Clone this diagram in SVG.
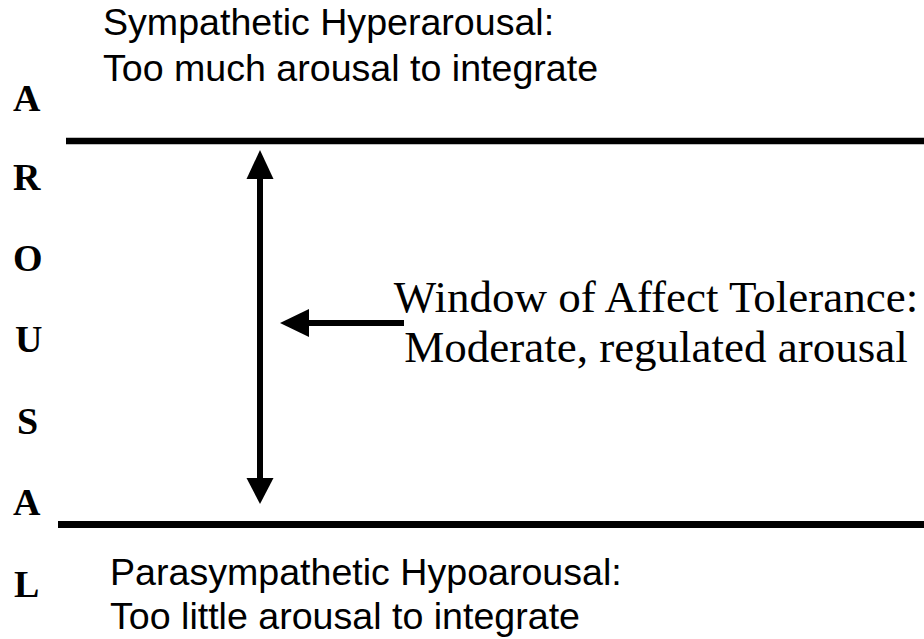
<svg xmlns="http://www.w3.org/2000/svg" width="924" height="639" viewBox="0 0 924 639">
  <style>
    .sans { font-family: "Liberation Sans", Arial, sans-serif; font-size: 37.6px; fill: #000; }
    .serif { font-family: "Liberation Serif", "Times New Roman", serif; font-size: 45px; fill: #000; }
    .axis { font-family: "Liberation Serif", "Times New Roman", serif; font-size: 38px; font-weight: bold; fill: #000; }
    .bar { stroke: #000; fill: none; }
    .shaft { stroke: #000; stroke-width: 6; fill: none; }
    .head { fill: #000; stroke: none; }
  </style>
  <rect x="0" y="0" width="924" height="639" fill="#fff"/>

  <g id="axis-label">
    <text class="axis" x="13" y="111">A</text>
    <text class="axis" x="13" y="190">R</text>
    <text class="axis" x="13" y="271">O</text>
    <text class="axis" x="15" y="352">U</text>
    <text class="axis" x="17" y="434">S</text>
    <text class="axis" x="13" y="515">A</text>
    <text class="axis" x="14" y="597">L</text>
  </g>

  <g id="hyperarousal">
    <text class="sans" x="103" y="35">Sympathetic Hyperarousal:</text>
    <text class="sans" x="103" y="81">Too much arousal to integrate</text>
  </g>

  <g id="window">
    <text class="serif" x="656" y="312" text-anchor="middle">Window of Affect Tolerance:</text>
    <text class="serif" x="656" y="362" text-anchor="middle">Moderate, regulated arousal</text>
  </g>

  <g id="hypoarousal">
    <text class="sans" x="110" y="585">Parasympathetic Hypoarousal:</text>
    <text class="sans" x="110" y="629">Too little arousal to integrate</text>
  </g>

  <g id="boundaries">
    <line class="bar" x1="66" y1="141" x2="924" y2="141" stroke-width="6.5"/>
    <line class="bar" x1="58" y1="524.5" x2="924" y2="524.5" stroke-width="7"/>
  </g>

  <g id="connectors">
    <line class="shaft" x1="260" y1="175" x2="260" y2="482"/>
    <path class="head" d="M260 150 L273.5 179 L246.5 179 Z"/>
    <path class="head" d="M260 504 L273.5 478 L246.5 478 Z"/>
    <line class="shaft" x1="305" y1="323" x2="404" y2="323"/>
    <path class="head" d="M280 323 L309 309 L309 337 Z"/>
  </g>
</svg>
